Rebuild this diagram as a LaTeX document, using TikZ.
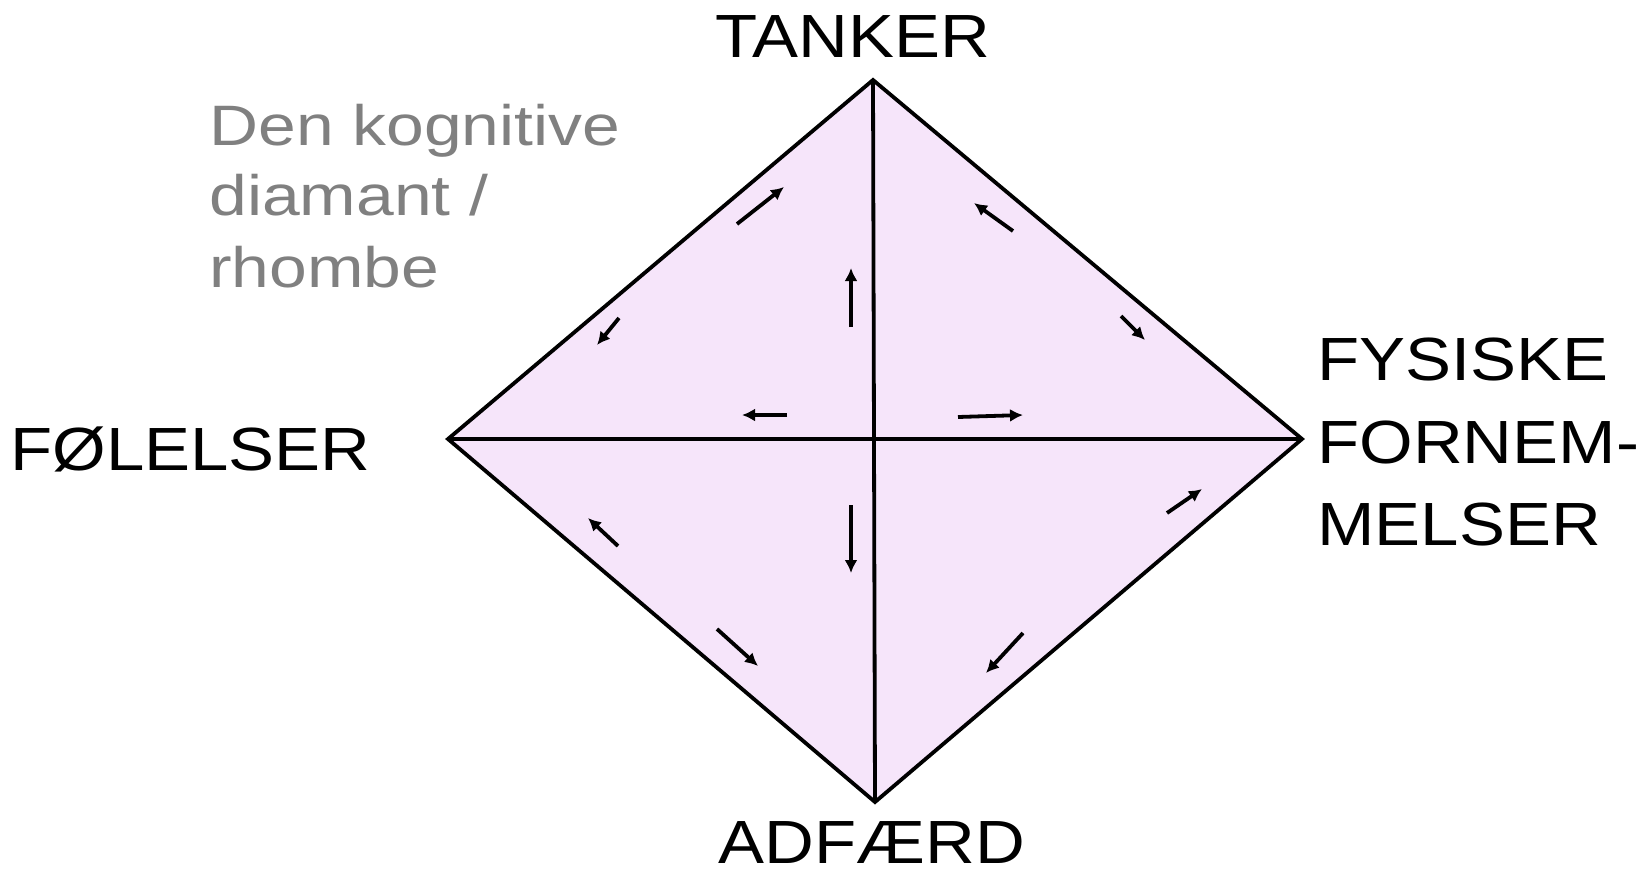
\documentclass[tikz,border=0pt]{standalone}
\usepackage{fontspec}
\usepackage{xcolor}
\usepackage{tikz}
\usetikzlibrary{arrows.meta}

\newfontfamily\cornerfont[FakeStretch=1.13]{Liberation Sans}
\newfontfamily\titlefont[FakeStretch=1.19]{Liberation Sans}
\definecolor{rhombfill}{RGB}{246,229,250}
\definecolor{titlegray}{RGB}{128,128,128}

\tikzset{
  corner/.style={inner sep=0pt, font=\cornerfont\fontsize{30.5}{36}\selectfont},
  titleline/.style={inner sep=0pt, anchor=base west, text=titlegray, font=\titlefont\fontsize{28.5}{34}\selectfont},
  flow/.style={line width=1.9pt, -{Latex[length=6.5pt,width=6.5pt]}}
}

\begin{document}
\begin{tikzpicture}[x=0.5pt, y=-0.5pt]
  \useasboundingbox (0,0) rectangle (1650,869);

  % Corners of the rhombe
  \coordinate (T) at (873,80);
  \coordinate (L) at (448,439);
  \coordinate (R) at (1302,439);
  \coordinate (B) at (875,802);

  % Rhombe and diagonals
  \filldraw[fill=rhombfill, line width=1.9pt, line join=miter] (T) -- (R) -- (B) -- (L) -- cycle;
  \draw[line width=1.9pt] (T) -- (B);
  \draw[line width=1.9pt] (L) -- (R);

  % Small arrows, upper half
  \draw[flow] (737,224) -- (784,187);
  \draw[flow] (619,318) -- (597,345);
  \draw[flow] (851,327) -- (851,268);
  \draw[flow] (787,415) -- (742,415);
  \draw[flow] (958,417) -- (1023,415);
  \draw[flow] (1013,231) -- (974,203);
  \draw[flow] (1121,316) -- (1145,340);

  % Small arrows, lower half
  \draw[flow] (851,505) -- (851,573);
  \draw[flow] (618,546) -- (588,518);
  \draw[flow] (717,629) -- (758,666);
  \draw[flow] (1167,513) -- (1202,489);
  \draw[flow] (1023,633) -- (986,673);

  % Labels at the corners
  \node[corner, anchor=base] (tanker) at (853,57) {TANKER};
  \node[corner, anchor=base] (adfaerd) at (872,863) {ADFÆRD};
  \node[corner, anchor=base west] (folelser) at (10,470) {FØLELSER};
  \node[corner, anchor=base west] (fys1) at (1317,380) {FYSISKE};
  \node[corner, anchor=base west] (fys2) at (1317,463) {FORNEM-};
  \node[corner, anchor=base west] (fys3) at (1317,545) {MELSER};

  % Title
  \node[titleline] (title1) at (209,145) {Den kognitive};
  \node[titleline] (title2) at (209,215) {diamant /};
  \node[titleline] (title3) at (209,287) {rhombe};
\end{tikzpicture}
\end{document}
